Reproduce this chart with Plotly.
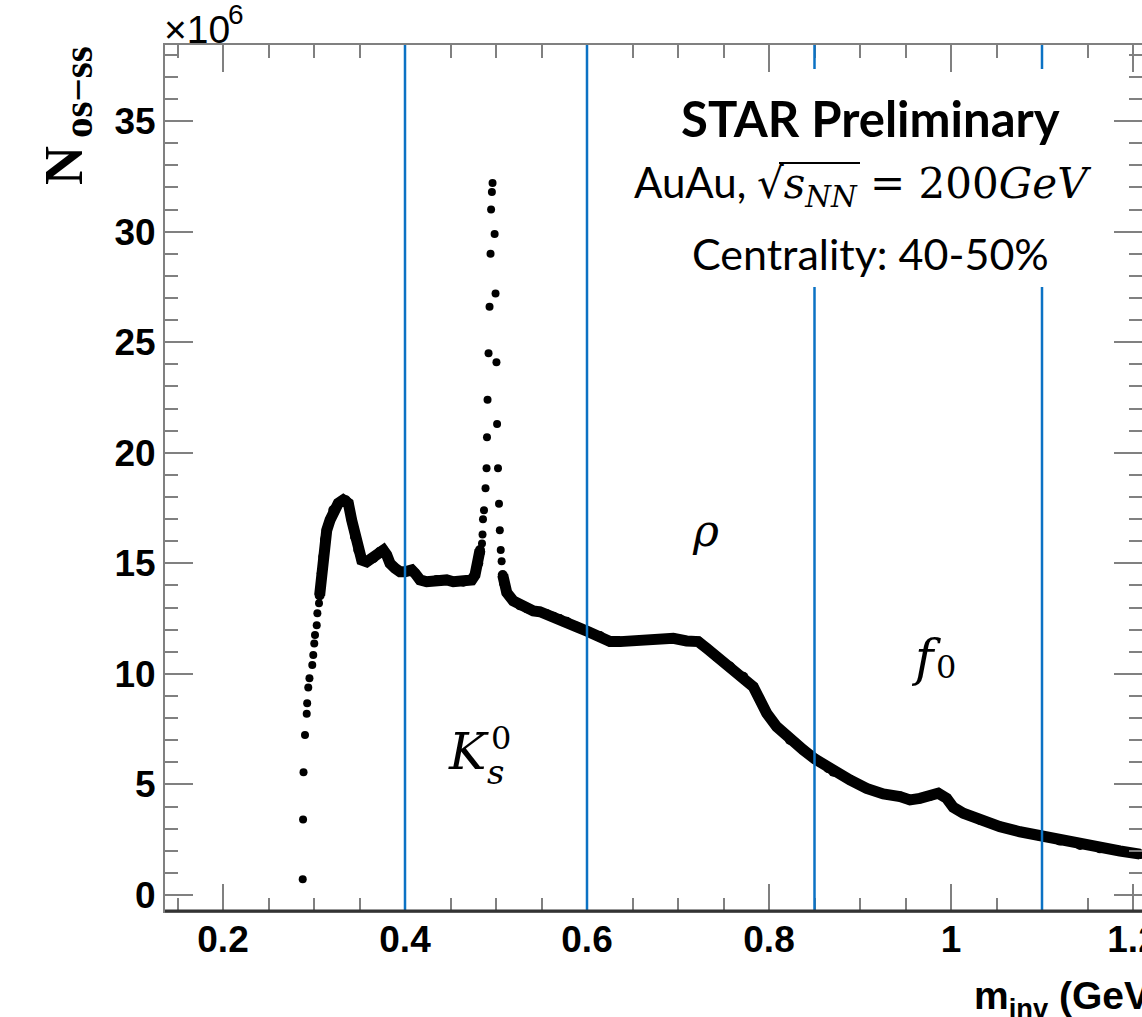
import plotly.graph_objects as go

# ---------------- data ----------------
# sparse points near threshold
thr_m = [0.2876, 0.2880, 0.2885, 0.2901, 0.2920, 0.2925, 0.2937, 0.2950,
         0.2981, 0.2992, 0.3003, 0.3011, 0.3030, 0.3037, 0.3055]
thr_n = [0.71, 3.42, 5.55, 7.24, 8.20, 8.67, 9.39, 9.80,
         10.40, 10.85, 11.38, 11.76, 12.20, 12.74, 13.20]

# dense band below the K0s peak
band1_m = [0.3062, 0.3085, 0.3102, 0.3121, 0.3140, 0.3176, 0.3212, 0.3267,
           0.3322, 0.3350, 0.3377, 0.3414, 0.3451, 0.3487, 0.3524, 0.3579,
           0.3652, 0.3725, 0.3762, 0.3799, 0.3835, 0.3890, 0.3945, 0.4000,
           0.4074, 0.4110, 0.4165, 0.4238, 0.4348, 0.4458, 0.4531, 0.4641,
           0.4733, 0.4769, 0.4805, 0.4824]
band1_n = [13.55, 14.55, 15.30, 16.06, 16.50, 16.96, 17.41, 17.72,
           17.87, 17.85, 17.72, 16.96, 16.20, 15.60, 15.15, 15.07,
           15.23, 15.53, 15.60, 15.38, 15.00, 14.78, 14.62, 14.62,
           14.70, 14.55, 14.25, 14.17, 14.25, 14.25, 14.17, 14.17,
           14.25, 14.47, 15.00, 15.60]

# sparse points of the K0s peak
peak_m = [0.4835, 0.4846, 0.4852, 0.4857, 0.4868, 0.4885, 0.4896, 0.4901,
          0.4907, 0.4918, 0.4929, 0.4940, 0.4946, 0.4955, 0.4962,
          0.4985, 0.4995, 0.5005, 0.5012, 0.5022, 0.5033, 0.5042, 0.5052,
          0.5062]
peak_n = [15.5, 15.9, 16.3, 17.0, 17.4, 18.4, 19.3, 20.7,
          22.4, 24.5, 26.6, 29.0, 31.0, 31.8, 32.2,
          29.9, 27.2, 24.1, 21.3, 19.3, 17.7, 16.5, 15.6,
          15.1]

# dense band above the K0s peak
band2_m = [0.5074, 0.5088, 0.5118, 0.5190, 0.5264, 0.5337, 0.5410, 0.5484,
           0.5560, 0.5630, 0.5700, 0.5777, 0.5887, 0.6015, 0.6143, 0.6253,
           0.6363, 0.6509, 0.6656, 0.6802, 0.6948, 0.7095, 0.7223, 0.7315,
           0.7425, 0.7571, 0.7718, 0.7827, 0.7901, 0.7975, 0.8085, 0.8231,
           0.8377, 0.8505, 0.8652, 0.8707, 0.8890, 0.9073, 0.9256, 0.9440,
           0.9549, 0.9659, 0.9769, 0.9860, 0.9953, 1.0025, 1.0135, 1.0319,
           1.0538, 1.0758, 1.0978, 1.1198, 1.1418, 1.1637, 1.1857, 1.2077]
band2_n = [14.47, 14.10, 13.68, 13.30, 13.10, 12.97, 12.85, 12.81,
           12.70, 12.59, 12.48, 12.36, 12.13, 11.91, 11.71, 11.46,
           11.46, 11.49, 11.53, 11.58, 11.61, 11.49, 11.46, 11.16,
           10.78, 10.33, 9.87, 9.42, 8.82, 8.22, 7.61, 7.01,
           6.56, 6.15, 5.73, 5.58, 5.20, 4.82, 4.57, 4.45,
           4.30, 4.37, 4.48, 4.60, 4.37, 3.97, 3.70, 3.39,
           3.09, 2.86, 2.67, 2.46, 2.26, 2.11, 1.99, 1.85]

# mass-window boundaries (blue lines)
full_lines = [0.4, 0.6]
gapped_lines = [0.85, 1.1]

x_tick_vals = [0.2, 0.4, 0.6, 0.8, 1.0, 1.2]
x_tick_text = ["0.2", "0.4", "0.6", "0.8", "1", "1.2"]
y_tick_vals = [0, 5, 10, 15, 20, 25, 30, 35]
y_tick_text = ["0", "5", "10", "15", "20", "25", "30", "35"]

# ---------------- layout geometry ----------------
W, H = 1142, 1017
L, R, T, B = 165, 0, 45, 106
PW, PH = W - L - R, H - T - B


def px(xp):
    return (xp - L) / PW


def py(yp):
    return (H - B - yp) / PH


BLUE = "#0B72C4"
GRAY = "#808080"

fig = go.Figure()

band_style = dict(mode="lines+markers", line=dict(color="black", width=11),
                  marker=dict(color="black", size=10), showlegend=False,
                  hoverinfo="skip")
dot_style = dict(mode="markers", marker=dict(color="black", size=8),
                 showlegend=False, hoverinfo="skip")

fig.add_trace(go.Scatter(x=thr_m, y=thr_n, **dot_style))
fig.add_trace(go.Scatter(x=band1_m, y=band1_n, **band_style))
fig.add_trace(go.Scatter(x=peak_m, y=peak_n, **dot_style))
fig.add_trace(go.Scatter(x=band2_m, y=band2_n, **band_style))

shapes = []
for xv in full_lines:
    shapes.append(dict(type="line", xref="x", yref="paper", x0=xv, x1=xv,
                       y0=0, y1=1, line=dict(color=BLUE, width=2.5),
                       layer="above"))
for xv in gapped_lines:
    shapes.append(dict(type="line", xref="x", yref="paper", x0=xv, x1=xv,
                       y0=0, y1=py(287), line=dict(color=BLUE, width=2.5),
                       layer="above"))
    shapes.append(dict(type="line", xref="x", yref="paper", x0=xv, x1=xv,
                       y0=py(69), y1=1, line=dict(color=BLUE, width=2.5),
                       layer="above"))
# darker bottom axis line
shapes.append(dict(type="line", xref="paper", yref="paper", x0=0, x1=1,
                   y0=0, y1=0, line=dict(color="#333333", width=3),
                   layer="above"))
# radical overline over s_NN
shapes.append(dict(type="line", xref="paper", yref="paper", x0=px(779),
                   x1=px(860), y0=py(163), y1=py(163),
                   line=dict(color="black", width=2), layer="above"))

SANS = "Liberation Sans"
SERIF_MATH = "DejaVu Serif"
CAL = "Lato"

annotations = [
    dict(text="×10", x=px(162), y=py(30), xanchor="left",
         yanchor="middle", font=dict(family=SANS, size=39, color="black")),
    dict(text="6", x=px(226), y=py(15), xanchor="left",
         yanchor="middle", font=dict(family=SANS, size=28, color="black")),
    dict(text="<b>N</b>", x=px(64), y=py(166), xanchor="center",
         yanchor="middle", textangle=-90,
         font=dict(family="Liberation Serif", size=54, color="black")),
    dict(text="<b>os−ss</b>", x=px(78), y=py(92), xanchor="center",
         yanchor="middle", textangle=-90,
         font=dict(family="Liberation Serif", size=41, color="black")),
    dict(text="<b>m<sub>inv</sub> (GeV/c<sup>2</sup>)</b>", x=px(972),
         y=py(996), xanchor="left", yanchor="middle",
         font=dict(family=SANS, size=39, color="black")),
    dict(text="<b>STAR Preliminary</b>", x=px(870), y=py(118),
         xanchor="center", yanchor="middle",
         font=dict(family=CAL, size=49, color="black")),
    dict(text="AuAu, <span style='font-family:DejaVu Serif'>√<i>s<sub>NN</sub></i> = 200<i>GeV</i></span>",
         x=px(862), y=py(186), xanchor="center", yanchor="middle",
         font=dict(family=CAL, size=42, color="black")),
    dict(text="Centrality: 40-50%", x=px(870), y=py(253),
         xanchor="center", yanchor="middle",
         font=dict(family=CAL, size=43, color="black")),
    dict(text="<i>ρ</i>", x=px(705), y=py(530), xanchor="center",
         yanchor="middle", font=dict(family=SERIF_MATH, size=44, color="black")),
    dict(text="<i>f</i>", x=px(926), y=py(658), xanchor="center",
         yanchor="middle", font=dict(family=SERIF_MATH, size=50, color="black")),
    dict(text="0", x=px(946), y=py(667), xanchor="center",
         yanchor="middle", font=dict(family=SERIF_MATH, size=32, color="black")),
    dict(text="<i>K</i>", x=px(468), y=py(752), xanchor="center",
         yanchor="middle", font=dict(family=SERIF_MATH, size=50, color="black")),
    dict(text="0", x=px(501), y=py(738), xanchor="center",
         yanchor="middle", font=dict(family=SERIF_MATH, size=32, color="black")),
    dict(text="<i>s</i>", x=px(495), y=py(772), xanchor="center",
         yanchor="middle", font=dict(family=SERIF_MATH, size=34, color="black")),
]
for a in annotations:
    a.update(xref="paper", yref="paper", showarrow=False)

tickfont = dict(family=SANS, size=37, color="black", weight="bold")

fig.update_layout(
    width=W, height=H,
    margin=dict(l=L, r=R, t=T, b=B, autoexpand=False),
    paper_bgcolor="white", plot_bgcolor="white",
    shapes=shapes, annotations=annotations,
    xaxis=dict(range=[0.4 - (405 - L) / 910, 0.4 + (W - R - 405) / 910],
               tickmode="array", tickvals=x_tick_vals, ticktext=x_tick_text,
               ticks="inside", ticklen=27, tickwidth=2, tickcolor=GRAY,
               showline=True, linecolor=GRAY, linewidth=2, mirror="ticks",
               minor=dict(dtick=0.05, tick0=0, ticks="inside", ticklen=13,
                          tickwidth=2, tickcolor=GRAY),
               showgrid=False, zeroline=False, tickfont=tickfont,
               ticklabelstandoff=-5,
               ticklabeloverflow="allow", automargin=False),
    yaxis=dict(range=[-(911 - 895) / 22.11, (895 - 45) / 22.11],
               tickmode="array", tickvals=y_tick_vals, ticktext=y_tick_text,
               ticks="inside", ticklen=28, tickwidth=2, tickcolor=GRAY,
               showline=True, linecolor=GRAY, linewidth=2, mirror="ticks",
               minor=dict(dtick=1, tick0=0, ticks="inside", ticklen=13,
                          tickwidth=2, tickcolor=GRAY),
               showgrid=False, zeroline=False, tickfont=tickfont,
               automargin=False),
)

fig.write_html("out.html", config={"displayModeBar": False},
               post_script="document.body.style.margin='0';document.body.style.overflow='hidden';")
